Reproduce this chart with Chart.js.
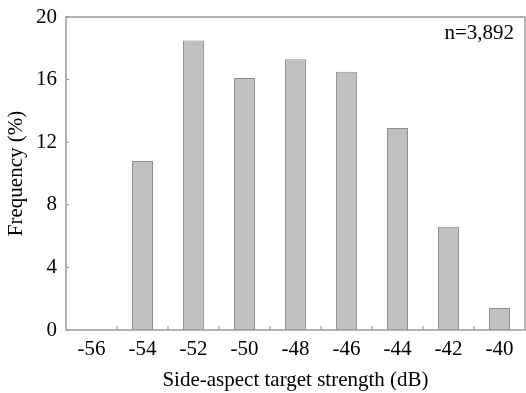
<!DOCTYPE html>
<html><head><meta charset="utf-8">
<script src="https://cdn.jsdelivr.net/npm/chart.js@4"></script>
<style>html,body{margin:0;padding:0;background:#fff}#w{width:526px;height:393px}</style>
</head><body><div id="w"><canvas id="c" width="526" height="393"></canvas></div>
<script>
const categories = ["-56","-54","-52","-50","-48","-46","-44","-42","-40"];
const frequency = [0, 10.8, 18.5, 16.1, 17.3, 16.5, 12.9, 6.6, 1.4];
const yTicks = [0, 4, 8, 12, 16, 20];
const annotation = "n=3,892";
const xTitle = "Side-aspect target strength (dB)";
const yTitle = "Frequency (%)";

const FONT = "'Liberation Serif', 'Times New Roman', serif";
const frame = {
  id: 'frame',
  afterDraw(chart) {
    const {ctx, chartArea: a, scales} = chart;
    ctx.save();
    ctx.strokeStyle = '#9a9a9a';
    ctx.lineWidth = 1.5;
    ctx.strokeRect(a.left, a.top, a.right - a.left, a.bottom - a.top);
    ctx.lineWidth = 1;
    ctx.strokeStyle = '#8a8a8a';
    const xs = scales.x;
    const step = xs.getPixelForValue(1) - xs.getPixelForValue(0);
    for (let i = 1; i < categories.length; i++) {
      const x = xs.getPixelForValue(i) - step / 2;
      ctx.beginPath(); ctx.moveTo(x, a.bottom); ctx.lineTo(x, a.bottom - 4); ctx.stroke();
    }
    const ys = scales.y;
    yTicks.forEach(v => {
      const y = ys.getPixelForValue(v);
      ctx.beginPath(); ctx.moveTo(a.left, y); ctx.lineTo(a.left + 3, y); ctx.stroke();
    });
    ctx.fillStyle = '#000';
    ctx.font = "21px " + FONT;
    ctx.textAlign = 'right';
    ctx.textBaseline = 'middle';
    ctx.fillText(annotation, a.right - 11, a.top + 16);
    ctx.restore();
  }
};

new Chart(document.getElementById('c'), {
  type: 'bar',
  data: {
    labels: categories,
    datasets: [{
      data: frequency,
      backgroundColor: '#c0c0c0',
      borderColor: '#8c8c8c',
      borderWidth: 1,
      barPercentage: 0.82,
      categoryPercentage: 0.5
    }]
  },
  plugins: [frame],
  options: {
    responsive: false,
    animation: false,
    layout: {padding: {left: 0, right: 1, top: 17, bottom: 0}},
    plugins: {legend: {display: false}, tooltip: {enabled: false}},
    scales: {
      x: {
        offset: true,
        grid: {display: false, drawTicks: false},
        border: {display: false},
        ticks: {color: '#000', font: {family: FONT, size: 21}, padding: 7, maxRotation: 0},
        title: {display: true, text: xTitle, color: '#000', font: {family: FONT, size: 21}, padding: {top: 4, bottom: 0}},
        afterFit(s) { s.height = 63; s.paddingLeft = 0; s.paddingRight = 0; }
      },
      y: {
        min: 0, max: 20,
        grid: {display: false, drawTicks: false},
        border: {display: false},
        afterBuildTicks(s) { s.ticks = yTicks.map(v => ({value: v})); },
        ticks: {color: '#000', font: {family: FONT, size: 21}, padding: 9},
        title: {display: true, text: yTitle, color: '#000', font: {family: FONT, size: 21}, padding: {top: 4, bottom: 0}},
        afterFit(s) { s.width = 66; s.paddingTop = 0; s.paddingBottom = 0; }
      }
    }
  }
});
</script></body></html>
